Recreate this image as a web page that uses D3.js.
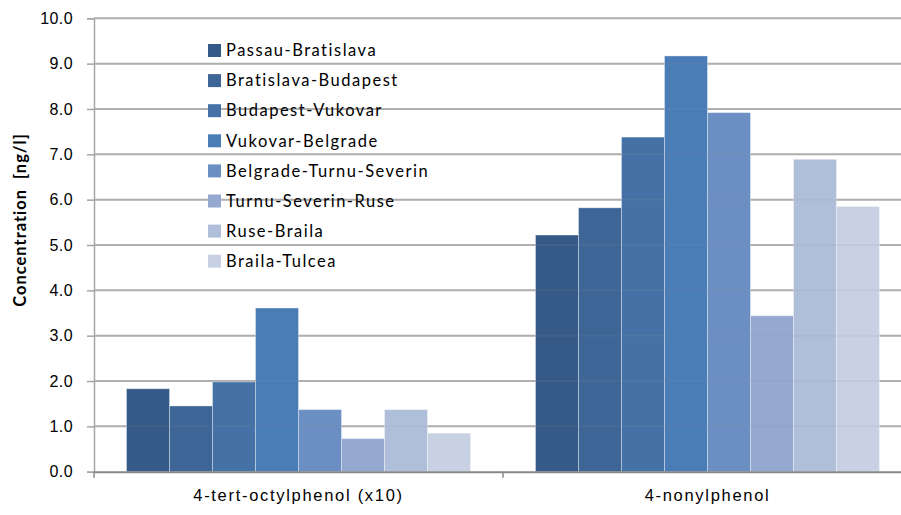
<!DOCTYPE html>
<html>
<head>
<meta charset="utf-8">
<script src="https://cdn.jsdelivr.net/npm/d3@7"></script>
<style>
  body { margin: 0; background: #fff; }
  svg { display: block; font-family: Lato, 'Open Sans', sans-serif; }
</style>
</head>
<body>
<svg id="chart" width="901" height="515"></svg>
<script>
'use strict';

// categories on the x axis
const groups = ['4-tert-octylphenol (x10)', '4-nonylphenol'];

// river stretches (series)
const stretches = [
  'Passau-Bratislava',
  'Bratislava-Budapest',
  'Budapest-Vukovar',
  'Vukovar-Belgrade',
  'Belgrade-Turnu-Severin',
  'Turnu-Severin-Ruse',
  'Ruse-Braila',
  'Braila-Tulcea'
];

// values per group, same order as stretches
const octylValues = [1.83, 1.45, 1.98, 3.61, 1.37, 0.73, 1.37, 0.85];
const nonylValues = [5.22, 5.82, 7.38, 9.17, 7.92, 3.44, 6.89, 5.85];

const yTicks = [0, 1, 2, 3, 4, 5, 6, 7, 8, 9, 10];

const colors = ['#365a87', '#3d6697', '#4472a6', '#4a7cb6', '#6b8fc3', '#94a8d0', '#afbfda', '#c8d0e3'];

(function() {
  const svg = d3.select('#chart');
  const plot = { left: 94, right: 912, top: 18.3, bottom: 471.7 };

  const x = d3.scaleBand().domain(groups).range([plot.left, plot.right]);
  const xInner = d3.scaleBand().domain(stretches).range([0, 344]);
  const y = d3.scaleLinear().domain([0, 10]).range([plot.bottom, plot.top]);

  // gridlines
  svg.append('g')
    .selectAll('line')
    .data(yTicks.slice(1))
    .enter()
    .append('line')
    .attr('x1', plot.left)
    .attr('x2', plot.right)
    .attr('y1', d => y(d))
    .attr('y2', d => y(d))
    .attr('stroke', '#b3b3b3')
    .attr('stroke-width', 2);

  // bars
  const data = [octylValues, nonylValues];
  groups.forEach((g, gi) => {
    const x0 = x(g) + (x.bandwidth() - 344) / 2;
    svg.append('g')
      .attr('transform', 'translate(' + x0 + ',0)')
      .selectAll('rect')
      .data(data[gi])
      .enter()
      .append('rect')
      .attr('x', (d, i) => xInner(stretches[i]))
      .attr('y', d => y(d))
      .attr('width', xInner.bandwidth())
      .attr('height', d => y(0) - y(d))
      .attr('fill', (d, i) => colors[i])
      .attr('stroke', 'rgba(255,255,255,0.35)')
      .attr('stroke-width', 1);
  });

  // faint gridlines showing through the bars
  svg.append('g')
    .selectAll('line')
    .data(yTicks.slice(1))
    .enter()
    .append('line')
    .attr('x1', plot.left)
    .attr('x2', plot.right)
    .attr('y1', d => y(d))
    .attr('y2', d => y(d))
    .attr('stroke', 'rgba(150,150,150,0.12)')
    .attr('stroke-width', 2);

  // y axis
  const yAxis = d3.axisLeft(y)
    .tickValues(yTicks)
    .tickFormat(d3.format('.1f'))
    .tickSize(7)
    .tickPadding(14);
  const gy = svg.append('g')
    .attr('transform', 'translate(' + plot.left + ',0)')
    .call(yAxis);
  gy.select('.domain').attr('stroke', '#a6a6a6').attr('stroke-width', 1.5);
  gy.selectAll('.tick line').attr('stroke', '#a6a6a6').attr('stroke-width', 1.5);
  gy.selectAll('.tick text')
    .style('font-size', '16px')
    .style('letter-spacing', '0.4px')
    .attr('fill', '#000');

  // x axis
  const xAxis = d3.axisBottom(x).tickSize(0).tickPadding(18);
  const gx = svg.append('g')
    .attr('transform', 'translate(0,' + plot.bottom + ')')
    .call(xAxis);
  gx.select('.domain').attr('stroke', '#888').attr('stroke-width', 2);
  gx.selectAll('.tick text')
    .style('font-size', '16.5px')
    .style('letter-spacing', '1.7px')
    .attr('fill', '#000');

  // category separators below the axis
  svg.append('g')
    .selectAll('line')
    .data(groups)
    .enter()
    .append('line')
    .attr('x1', d => Math.round(x(d)))
    .attr('x2', d => Math.round(x(d)))
    .attr('y1', plot.bottom)
    .attr('y2', plot.bottom + 6)
    .attr('stroke', '#888')
    .attr('stroke-width', 1.5);

  // y axis title
  svg.append('text')
    .attr('transform', 'translate(26,220)rotate(-90)')
    .attr('text-anchor', 'middle')
    .style('font-size', '16.5px')
    .style('font-weight', 'bold')
    .style('letter-spacing', '1px')
    .style('white-space', 'pre')
    .text('Concentration  [ng/l]');

  // legend
  const legend = svg.append('g')
    .attr('transform', 'translate(208,50.5)')
    .selectAll('g')
    .data(stretches)
    .enter()
    .append('g')
    .attr('transform', (d, i) => 'translate(0,' + i * 30.1 + ')');

  legend.append('rect')
    .attr('x', 0)
    .attr('y', -6.5)
    .attr('width', 13)
    .attr('height', 13)
    .attr('fill', (d, i) => colors[i]);

  legend.append('text')
    .attr('x', 18)
    .attr('y', 0)
    .attr('dy', '0.35em')
    .style('font-size', '16.5px')
    .style('letter-spacing', '1.5px')
    .text(d => d);
})();
</script>
</body>
</html>
